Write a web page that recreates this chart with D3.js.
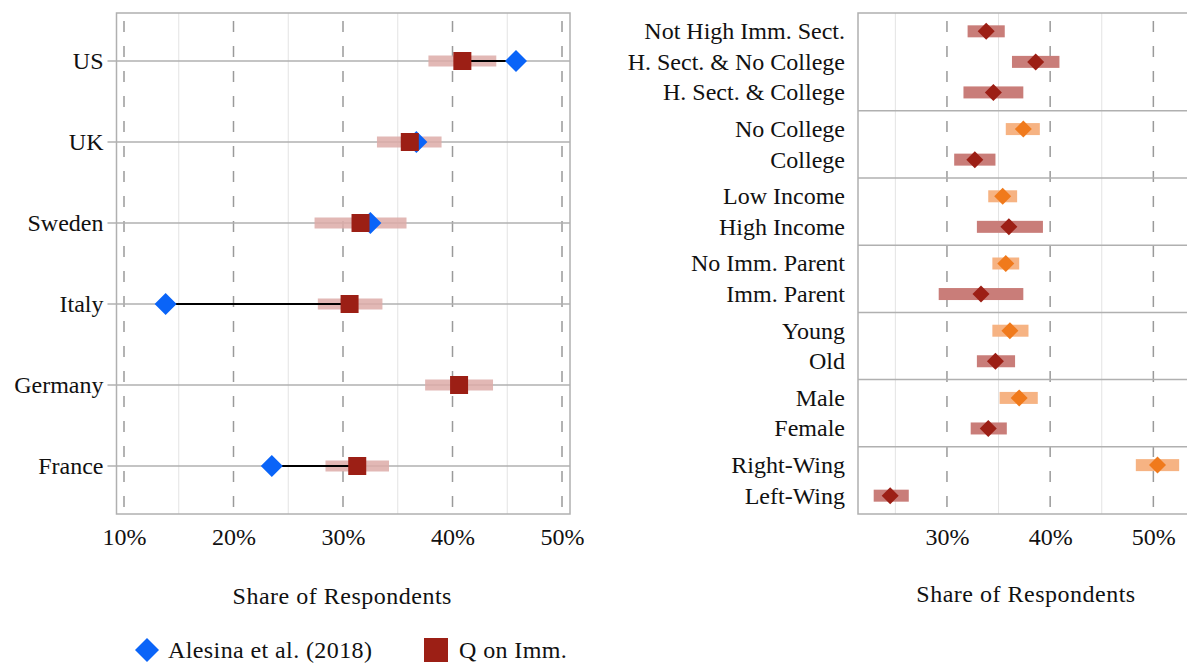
<!DOCTYPE html>
<html>
<head>
<meta charset="utf-8">
<script src="https://cdn.jsdelivr.net/npm/d3@7"></script>
<style>
  html, body { margin: 0; padding: 0; background: #fff; }
  svg { display: block; }
  text { font-family: "Liberation Serif", "Times New Roman", serif; fill: #111; }
</style>
</head>
<body>
<svg id="chart" width="1187" height="663"></svg>
<script>
// ---------- Left panel data ----------
const countries = ["US", "UK", "Sweden", "Italy", "Germany", "France"];
const alesina   = [45.8, 36.7, 32.5, 13.8, null, 23.5];
const qImm      = [40.9, 36.1, 31.6, 30.6, 40.6, 31.3];
const qImmLow   = [37.8, 33.1, 27.4, 27.7, 37.5, 28.4];
const qImmHigh  = [44.0, 39.0, 35.8, 33.6, 43.7, 34.2];
const leftTicks = [10, 20, 30, 40, 50];
const leftMinor = [15, 25, 35, 45];

// ---------- Right panel data ----------
const subLabels = ["Not High Imm. Sect.", "H. Sect. & No College", "H. Sect. & College",
                   "No College", "College",
                   "Low Income", "High Income",
                   "No Imm. Parent", "Imm. Parent",
                   "Young", "Old",
                   "Male", "Female",
                   "Right-Wing", "Left-Wing"];
const subGroup  = [0,0,0, 1,1, 2,2, 3,3, 4,4, 5,5, 6,6];
const subValue  = [33.8, 38.6, 34.5, 37.4, 32.7, 35.4, 36.0, 35.7, 33.3, 36.1, 34.7, 37.0, 34.0, 50.4, 24.5];
const subLow    = [32.0, 36.3, 31.6, 35.7, 30.7, 34.0, 32.9, 34.4, 29.2, 34.4, 32.9, 35.1, 32.3, 48.3, 22.9];
const subHigh   = [35.6, 40.9, 37.4, 39.0, 34.7, 36.8, 39.3, 37.0, 37.4, 37.9, 36.6, 38.8, 35.8, 52.5, 26.3];
const subOrange = [0,0,0, 1,0, 1,0, 1,0, 1,0, 1,0, 1,0];
const rightTicks = [30, 40, 50];
const rightMinor = [25, 35, 45];

const legendLabels = ["Alesina et al. (2018)", "Q on Imm."];
const axisTitle = "Share of Respondents";

// ---------- Styles ----------
const FONT = 24;
const C_BLUE = "#0a64f8", C_RED = "#9c1f15", C_RED_CI = "#ddaba8";
const C_RED2_CI = "#c97d79", C_OR = "#f07a1c", C_OR_CI = "#f6b383";
const C_BORDER = "#b0b0b0", C_DASH = "#9a9a9a", C_MINOR = "#e3e3e3";

const svg = d3.select("#chart");

// ================= LEFT PANEL =================
const L = {x0: 116.5, x1: 570, y0: 13, y1: 514};
const xL = d3.scaleLinear().domain([9.315, 50.73]).range([L.x0, L.x1]);
const yL = d3.scalePoint().domain(countries).range([61, 466]);
const gL = svg.append("g");

gL.selectAll(".minorL").data(leftMinor).join("line")
  .attr("x1", d => xL(d)).attr("x2", d => xL(d))
  .attr("y1", L.y0).attr("y2", L.y1)
  .attr("stroke", C_MINOR).attr("stroke-width", 1);
gL.selectAll(".dashL").data(leftTicks).join("line")
  .attr("x1", d => xL(d)).attr("x2", d => xL(d))
  .attr("y1", L.y0).attr("y2", L.y1)
  .attr("stroke", C_DASH).attr("stroke-width", 1.5)
  .attr("stroke-dasharray", "11,14").attr("stroke-dashoffset", -8);
gL.selectAll(".rowL").data(countries).join("line")
  .attr("x1", L.x0 - 9).attr("x2", L.x1)
  .attr("y1", d => yL(d)).attr("y2", d => yL(d))
  .attr("stroke", C_BORDER).attr("stroke-width", 1.5);
gL.append("rect").attr("x", L.x0).attr("y", L.y0)
  .attr("width", L.x1 - L.x0).attr("height", L.y1 - L.y0)
  .attr("fill", "none").attr("stroke", C_BORDER).attr("stroke-width", 1.5);

// CI bars
gL.selectAll(".ciL").data(countries).join("rect")
  .attr("x", (d, i) => xL(qImmLow[i]))
  .attr("width", (d, i) => xL(qImmHigh[i]) - xL(qImmLow[i]))
  .attr("y", d => yL(d) - 5.5).attr("height", 11)
  .attr("fill", C_RED_CI).attr("opacity", 0.85);
// connecting lines
const withA = countries.map((c, i) => i).filter(i => alesina[i] !== null);
gL.selectAll(".conn").data(withA).join("line")
  .attr("x1", i => xL(alesina[i])).attr("x2", i => xL(qImm[i]))
  .attr("y1", i => yL(countries[i])).attr("y2", i => yL(countries[i]))
  .attr("stroke", "#000").attr("stroke-width", 2.2);
// diamonds
const diamond = (cx, cy, r) => `M${cx},${cy - r}L${cx + r},${cy}L${cx},${cy + r}L${cx - r},${cy}Z`;
gL.selectAll(".dia").data(withA).join("path")
  .attr("d", i => diamond(xL(alesina[i]), yL(countries[i]), 11))
  .attr("fill", C_BLUE);
// squares
gL.selectAll(".sq").data(countries).join("rect")
  .attr("x", (d, i) => xL(qImm[i]) - 9).attr("y", d => yL(d) - 9)
  .attr("width", 18).attr("height", 18).attr("fill", C_RED);

// axes
const axL = d3.axisBottom(xL).tickValues(leftTicks).tickSize(0).tickPadding(0).tickFormat(d => d + "%");
const axLg = gL.append("g").attr("transform", `translate(0,${L.y1})`).call(axL);
axLg.select(".domain").remove();
axLg.selectAll("text").attr("y", 31).attr("dy", 0)
  .style("font-size", FONT + "px").style("font-family", "Liberation Serif").attr("fill", "#111");
const ayL = d3.axisLeft(yL).tickSize(0).tickPadding(0);
const ayLg = gL.append("g").attr("transform", `translate(${L.x0 - 13},0)`).call(ayL);
ayLg.select(".domain").remove();
ayLg.selectAll("text").attr("x", 0).attr("dy", "0.33em")
  .style("font-size", FONT + "px").style("font-family", "Liberation Serif").attr("fill", "#111");

gL.append("text").attr("x", (L.x0 + L.x1) / 2 - 1).attr("y", 604)
  .attr("text-anchor", "middle").style("font-size", FONT + "px")
  .style("letter-spacing", "0.5px").text(axisTitle);

// ================= RIGHT PANEL =================
const R = {x0: 858, x1: 1187, y0: 13, y1: 514};
const xR = d3.scaleLinear().domain([21.38, 53.26]).range([R.x0, R.x1]);
// vertical layout in "row units": each group = rows + padding
const nGroups = d3.max(subGroup) + 1;
const groupSizes = d3.range(nGroups).map(g => subGroup.filter(s => s === g).length);
const GP = 0.2;
const groupStart = [];
let acc = 0;
groupSizes.forEach(n => { groupStart.push(acc); acc += n + GP; });
const yR = d3.scaleLinear().domain([0, acc]).range([R.y0, R.y1]);
const rowUnit = subLabels.map((l, i) => {
  const g = subGroup[i];
  const k = subGroup.slice(0, i).filter(s => s === g).length;
  return groupStart[g] + GP / 2 + k + 0.5;
});
const gR = svg.append("g");

gR.selectAll(".minorR").data(rightMinor).join("line")
  .attr("x1", d => xR(d)).attr("x2", d => xR(d))
  .attr("y1", R.y0).attr("y2", R.y1)
  .attr("stroke", C_MINOR).attr("stroke-width", 1);
gR.selectAll(".dashR").data(rightTicks).join("line")
  .attr("x1", d => xR(d)).attr("x2", d => xR(d))
  .attr("y1", R.y0).attr("y2", R.y1)
  .attr("stroke", C_DASH).attr("stroke-width", 1.5)
  .attr("stroke-dasharray", "11,14").attr("stroke-dashoffset", -8);
gR.selectAll(".sep").data(groupStart.slice(1)).join("line")
  .attr("x1", R.x0).attr("x2", R.x1)
  .attr("y1", d => yR(d)).attr("y2", d => yR(d))
  .attr("stroke", C_BORDER).attr("stroke-width", 1.5);
gR.append("path")
  .attr("d", `M${R.x1},${R.y0}H${R.x0}V${R.y1}H${R.x1}`)
  .attr("fill", "none").attr("stroke", C_BORDER).attr("stroke-width", 1.5);

gR.selectAll(".ciR").data(subLabels).join("rect")
  .attr("x", (d, i) => xR(subLow[i]))
  .attr("width", (d, i) => xR(subHigh[i]) - xR(subLow[i]))
  .attr("y", (d, i) => yR(rowUnit[i]) - 6).attr("height", 12)
  .attr("fill", (d, i) => subOrange[i] ? C_OR_CI : C_RED2_CI);
gR.selectAll(".diaR").data(subLabels).join("path")
  .attr("d", (d, i) => diamond(xR(subValue[i]), yR(rowUnit[i]), 8.5))
  .attr("fill", (d, i) => subOrange[i] ? C_OR : C_RED);

const axR = d3.axisBottom(xR).tickValues(rightTicks).tickSize(0).tickPadding(0).tickFormat(d => d + "%");
const axRg = gR.append("g").attr("transform", `translate(0,${R.y1})`).call(axR);
axRg.select(".domain").remove();
axRg.selectAll("text").attr("y", 31).attr("dy", 0)
  .style("font-size", FONT + "px").style("font-family", "Liberation Serif").attr("fill", "#111");

gR.selectAll(".labR").data(subLabels).join("text")
  .attr("x", R.x0 - 13).attr("y", (d, i) => yR(rowUnit[i])).attr("dy", "0.33em")
  .attr("text-anchor", "end").style("font-size", FONT + "px").text(d => d);

gR.append("text").attr("x", 1026).attr("y", 602)
  .attr("text-anchor", "middle").style("font-size", FONT + "px")
  .style("letter-spacing", "0.5px").text(axisTitle);

// ================= LEGEND =================
const gLeg = svg.append("g");
gLeg.append("path").attr("d", diamond(147, 650, 12)).attr("fill", C_BLUE);
gLeg.append("text").attr("x", 168).attr("y", 650).attr("dy", "0.33em")
  .style("font-size", FONT + "px").style("letter-spacing", "0.4px").text(legendLabels[0]);
gLeg.append("rect").attr("x", 424).attr("y", 638).attr("width", 24).attr("height", 24).attr("fill", C_RED);
gLeg.append("text").attr("x", 459).attr("y", 650).attr("dy", "0.33em")
  .style("font-size", FONT + "px").style("letter-spacing", "0.4px").text(legendLabels[1]);
</script>
</body>
</html>
